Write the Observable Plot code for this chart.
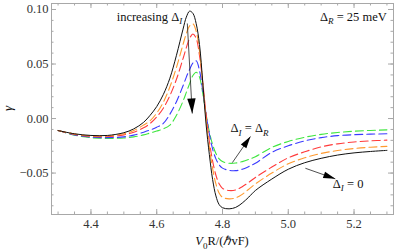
<!DOCTYPE html>
<html><head><meta charset="utf-8">
<script src="https://cdn.jsdelivr.net/npm/d3@7"></script>
<script src="https://cdn.jsdelivr.net/npm/@observablehq/plot@0.6"></script>
<style>body{margin:0;background:#fff}#chart svg{display:block}#chart svg text{font-family:'Liberation Serif','Times New Roman',serif}</style>
</head><body><div id="chart"></div>
<script>
// ---- data ----
const xVals = [4.30,4.35,4.40,4.45,4.50,4.53,4.56,4.58,4.60,4.62,4.64,4.66,4.68,4.69,4.70,4.71,4.72,4.73,4.74,4.75,4.76,4.77,4.78,4.79,4.80,4.82,4.84,4.86,4.88,4.90,4.95,5.00,5.05,5.10,5.15,5.20,5.25,5.30];
const gammaBlack  = [-0.0110,-0.0140,-0.0155,-0.0155,-0.0130,-0.0095,-0.0035,0.0030,0.0110,0.0220,0.0370,0.0580,0.0820,0.0930,0.0985,0.0965,0.0870,0.0680,0.0330,-0.0050,-0.0330,-0.0560,-0.0710,-0.0790,-0.0818,-0.0828,-0.0815,-0.0775,-0.0720,-0.0660,-0.0555,-0.0465,-0.0405,-0.0365,-0.0335,-0.0315,-0.0302,-0.0292];
const gammaOrange = [-0.0110,-0.0142,-0.0158,-0.0160,-0.0140,-0.0110,-0.0060,-0.0020,0.0050,0.0150,0.0290,0.0470,0.0680,0.0780,0.0850,0.0868,0.0800,0.0620,0.0320,0.0000,-0.0260,-0.0460,-0.0600,-0.0685,-0.0722,-0.0737,-0.0728,-0.0695,-0.0648,-0.0600,-0.0500,-0.0415,-0.0360,-0.0320,-0.0293,-0.0275,-0.0263,-0.0255];
const gammaRed    = [-0.0110,-0.0145,-0.0162,-0.0165,-0.0150,-0.0125,-0.0085,-0.0045,0.0015,0.0095,0.0210,0.0360,0.0550,0.0650,0.0735,0.0775,0.0735,0.0580,0.0330,0.0040,-0.0210,-0.0390,-0.0520,-0.0600,-0.0640,-0.0660,-0.0655,-0.0625,-0.0585,-0.0540,-0.0445,-0.0360,-0.0305,-0.0260,-0.0232,-0.0215,-0.0205,-0.0198];
const gammaBlue   = [-0.0110,-0.0150,-0.0170,-0.0175,-0.0168,-0.0152,-0.0125,-0.0105,-0.0080,-0.0045,0.0040,0.0155,0.0300,0.0380,0.0450,0.0510,0.0530,0.0440,0.0255,0.0040,-0.0140,-0.0280,-0.0370,-0.0425,-0.0455,-0.0475,-0.0478,-0.0465,-0.0440,-0.0410,-0.0310,-0.0250,-0.0205,-0.0175,-0.0157,-0.0148,-0.0143,-0.0140];
const gammaGreen  = [-0.0110,-0.0152,-0.0175,-0.0182,-0.0178,-0.0168,-0.0150,-0.0132,-0.0115,-0.0095,-0.0060,0.0030,0.0160,0.0240,0.0320,0.0395,0.0425,0.0380,0.0230,0.0040,-0.0120,-0.0240,-0.0320,-0.0370,-0.0395,-0.0410,-0.0408,-0.0395,-0.0375,-0.0350,-0.0265,-0.0210,-0.0172,-0.0145,-0.0128,-0.0116,-0.0109,-0.0104];
const seriesNames  = ["ΔI = 0", "ΔI small", "ΔI medium", "ΔI large", "ΔI = ΔR"];
const seriesValues = [gammaBlack, gammaOrange, gammaRed, gammaBlue, gammaGreen];
const seriesColors = ["#111111", "#ff9a30", "#ff3b3b", "#3a3aff", "#3fe63f"];
const xTicks = [4.4, 4.6, 4.8, 5.0, 5.2];
const yTicks = [-0.05, 0.00, 0.05, 0.10];
const xMinor = d3.range(4.30, 5.3001, 0.05).map(v => +v.toFixed(2));
const yMinor = d3.range(-0.08, 0.1001, 0.01).map(v => +v.toFixed(2));
const xDomain = [4.28, 5.32];
const yDomain = [-0.088, 0.1055];
// annotation arrows (data coordinates: tail -> tip)
const arrowX1 = [4.693, 4.830, 5.052];
const arrowY1 = [0.0872, -0.0404, -0.0456];
const arrowX2 = [4.708, 4.885, 5.143];
const arrowY2 = [0.0046, -0.0165, -0.0553];
const arrowHeadLen = [15, 12, 12];

// ---- layout ----
const W = 395, H = 250, mL = 51, mR = 2, mT = 3, mB = 36;
const fw = W - mL - mR, fh = H - mT - mB;
const FONT = "'Liberation Serif', 'Times New Roman', serif";
const frameColor = "#a8a8a8";

const rows = [];
seriesValues.forEach((arr, i) => arr.forEach((g, j) => rows.push({x: xVals[j], g, s: seriesNames[i]})));

const sx = Plot.scale({x: {domain: xDomain, range: [mL, W - mR]}});
const sy = Plot.scale({y: {domain: yDomain, range: [H - mB, mT]}});
const arrows = arrowX1.map((_, i) => {
  const dx = sx.apply(arrowX2[i]) - sx.apply(arrowX1[i]);
  const dy = sy.apply(arrowY2[i]) - sy.apply(arrowY1[i]);
  return {x1: arrowX1[i], y1: arrowY1[i], x2: arrowX2[i], y2: arrowY2[i],
          angle: Math.atan2(dx, -dy) * 180 / Math.PI, len: arrowHeadLen[i]};
});
const headSymbol = (L, w) => ({draw(ctx) { ctx.moveTo(0, 0); ctx.lineTo(-w, L); ctx.lineTo(w, L); ctx.closePath(); }});

const marks = [
  Plot.frame({stroke: frameColor, strokeWidth: 1}),
  Plot.tickX(xMinor, {x: d => d, insetTop: fh - 2.5, stroke: frameColor}),
  Plot.tickX(xTicks, {x: d => d, insetTop: fh - 5, stroke: frameColor}),
  Plot.tickX(xMinor, {x: d => d, insetBottom: fh - 2.5, stroke: frameColor}),
  Plot.tickX(xTicks, {x: d => d, insetBottom: fh - 5, stroke: frameColor}),
  Plot.tickY(yMinor, {y: d => d, insetRight: fw - 2.5, stroke: frameColor}),
  Plot.tickY(yTicks, {y: d => d, insetRight: fw - 5, stroke: frameColor}),
  Plot.tickY(yMinor, {y: d => d, insetLeft: fw - 2.5, stroke: frameColor}),
  Plot.tickY(yTicks, {y: d => d, insetLeft: fw - 5, stroke: frameColor}),
  Plot.axisX({ticks: xTicks, tickSize: 0, tickPadding: 5, tickFormat: d3.format(".1f"), label: null, fill: "#333", fontFamily: FONT, fontSize: 12.5}),
  Plot.axisY({ticks: yTicks, tickSize: 0, tickPadding: 3, tickFormat: d3.format(".2f"), label: null, fill: "#333", fontFamily: FONT, fontSize: 12.5})
];
// dashed curves first (drawn beneath), black solid last
[4, 3, 2, 1].forEach(i => marks.push(Plot.line(rows.filter(r => r.s === seriesNames[i]), {
  x: "x", y: "g", stroke: seriesColors[i], strokeWidth: 1.1, strokeDasharray: "8,4", curve: "catmull-rom"})));
marks.push(Plot.line(rows.filter(r => r.s === seriesNames[0]), {x: "x", y: "g", stroke: seriesColors[0], strokeWidth: 1, curve: "catmull-rom"}));
marks.push(Plot.link(arrows, {x1: "x1", y1: "y1", x2: "x2", y2: "y2", stroke: "#222", strokeWidth: 0.8}));
arrows.forEach(a => marks.push(Plot.dot([a], {x: "x2", y: "y2", rotate: "angle", symbol: headSymbol(a.len, a.len * 0.28), fill: "#000", stroke: "none"})));

const plot = Plot.plot({
  width: W, height: H, marginLeft: mL, marginRight: mR, marginTop: mT, marginBottom: mB,
  x: {domain: xDomain}, y: {domain: yDomain},
  style: {fontFamily: FONT, fontSize: "12.5px", color: "#222", background: "#fff"},
  marks
});
document.getElementById("chart").append(plot);

// ---- rich-text labels (positions from Plot's own scales) ----
const svg = d3.select(plot);
const X = plot.scale("x"), Y = plot.scale("y");
function rich(x, y, anchor, parts, size = 12.5) {
  const t = svg.append("text").attr("x", x).attr("y", y).attr("text-anchor", anchor)
    .attr("font-family", FONT).attr("font-size", size).attr("fill", "#111");
  let shift = 0;
  parts.forEach(p => {
    const s = t.append("tspan").text(p.t);
    const target = p.sub ? 3.5 : 0;
    if (target !== shift) { s.attr("dy", target - shift); shift = target; }
    if (p.sub) s.attr("font-size", size * 0.72);
    if (p.it) s.attr("font-style", "italic");
  });
  return t;
}
const annText = [
  {x: 4.679, y: 0.0890, anchor: "end", parts: [{t: "increasing Δ"}, {t: "I", sub: true, it: true}]},
  {x: 5.301, y: 0.0890, anchor: "end", parts: [{t: "Δ"}, {t: "R", sub: true, it: true}, {t: " = 25 meV"}]},
  {x: 4.826, y: -0.0130, anchor: "start", parts: [{t: "Δ"}, {t: "I", sub: true, it: true}, {t: " = Δ"}, {t: "R", sub: true, it: true}]},
  {x: 5.137, y: -0.0640, anchor: "start", parts: [{t: "Δ"}, {t: "I", sub: true, it: true}, {t: " = 0"}]}
];
annText.forEach(a => rich(X.apply(a.x), Y.apply(a.y), a.anchor, a.parts));
// x axis label
rich((X.range[0] + X.range[1]) / 2, H - 5, "middle",
  [{t: "V", it: true}, {t: "0", sub: true}, {t: "R/("}, {t: "ℏ", it: true}, {t: "vF)"}]);
// y axis label
const ycen = (Y.range[0] + Y.range[1]) / 2;
svg.append("text").attr("transform", `translate(12,${ycen}) rotate(-90)`).attr("text-anchor", "middle")
  .attr("font-family", FONT).attr("font-size", 13).attr("font-style", "italic").attr("fill", "#111").text("γ");
</script></body></html>
